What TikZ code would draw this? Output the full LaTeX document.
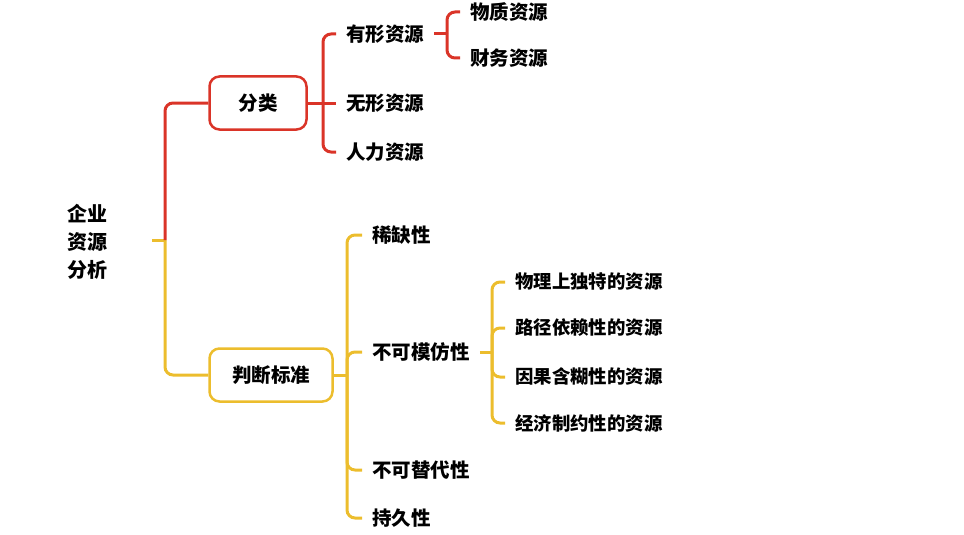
\documentclass[tikz,border=0pt]{standalone}
\usepackage{fontspec}
\setmainfont{Noto Sans CJK SC}
\usepackage{tikz}
\usetikzlibrary{positioning}
\definecolor{mapred}{RGB}{218,52,40}
\definecolor{mapyellow}{RGB}{236,189,45}

\begin{document}
\begin{tikzpicture}[x=1pt, y=-1pt,
  txt/.style={font=\fontsize{19.5}{23}\selectfont\bfseries, anchor=west, inner xsep=10pt, inner ysep=2pt},
  leaf/.style={font=\fontsize{18.4}{22}\selectfont\bfseries, anchor=west, inner xsep=10pt, inner ysep=2pt},
  topic/.style={line width=2.5pt, rounded corners=10pt, minimum height=53pt, font=\fontsize{19.5}{23}\selectfont\bfseries},
  redline/.style={draw=mapred, line width=3pt, rounded corners=8pt},
  yelline/.style={draw=mapyellow, line width=3pt, rounded corners=8pt}]
\useasboundingbox (0,0) rectangle (964,535);
%%── Root ─────────────────────────────────────────────────
\node[font=\fontsize{20}{28}\selectfont\bfseries, align=center, inner sep=0pt] (root) at (87,242) {企业\\资源\\分析};
\coordinate (rootjoin) at (152,240);
\coordinate (trunk) at (165,240);
%%── Main topics ──────────────────────────────────────────
\node[topic, draw=mapred, minimum width=97pt] (fenlei) at (258,103) {分类};
\node[topic, draw=mapyellow, minimum width=123pt] (panduan) at (271,375) {判断标准};
%%── 分类 branch ──────────────────────────────────────────
\node[txt] (youxing) at (336,34)  {有形资源};
\node[txt] (wuxing)  at (336,103) {无形资源};
\node[txt] (renli)   at (336,152) {人力资源};
\node[txt] (wuzhi)   at (460,12)  {物质资源};
\node[txt] (caiwu)   at (460,58)  {财务资源};
\coordinate (fjoin) at (323,103);
\coordinate (yjoin) at (447,34);
%%── 判断标准 branch ──────────────────────────────────────
\node[txt] (xique)      at (362,235) {稀缺性};
\node[txt] (bukemofang) at (362,352) {不可模仿性};
\node[txt] (butidai)    at (362,470) {不可替代性};
\node[txt] (chijiu)     at (362,518) {持久性};
\node[leaf] (wuli)   at (505,282) {物理上独特的资源};
\node[leaf] (lujing) at (505,328) {路径依赖性的资源};
\node[leaf] (yinguo) at (505,377) {因果含糊性的资源};
\node[leaf] (jingji) at (505,423) {经济制约性的资源};
\coordinate (pjoin) at (347,375);
\coordinate (mjoin) at (492,352);
%%── Connectors ───────────────────────────────────────────
\draw[yelline] (rootjoin) -- (trunk);
\draw[yelline] (trunk) |- (panduan.west);
\draw[redline] (trunk) |- (fenlei.west);
%% 分类
\draw[redline] (fenlei.east) -- (fjoin);
\draw[redline] (fjoin) |- (youxing.west);
\draw[redline] (fjoin) -- (wuxing.west);
\draw[redline] (fjoin) |- (renli.west);
\draw[redline] (youxing.east) -- (yjoin);
\draw[redline] (yjoin) |- (wuzhi.west);
\draw[redline] (yjoin) |- (caiwu.west);
%% 判断标准
\draw[yelline] (panduan.east) -- (pjoin);
\foreach \n in {xique,bukemofang,butidai,chijiu}
  \draw[yelline] (pjoin) |- (\n.west);
\draw[yelline] (bukemofang.east) -- (mjoin);
\foreach \n in {wuli,lujing,yinguo,jingji}
  \draw[yelline] (mjoin) |- (\n.west);
\end{tikzpicture}
\end{document}
